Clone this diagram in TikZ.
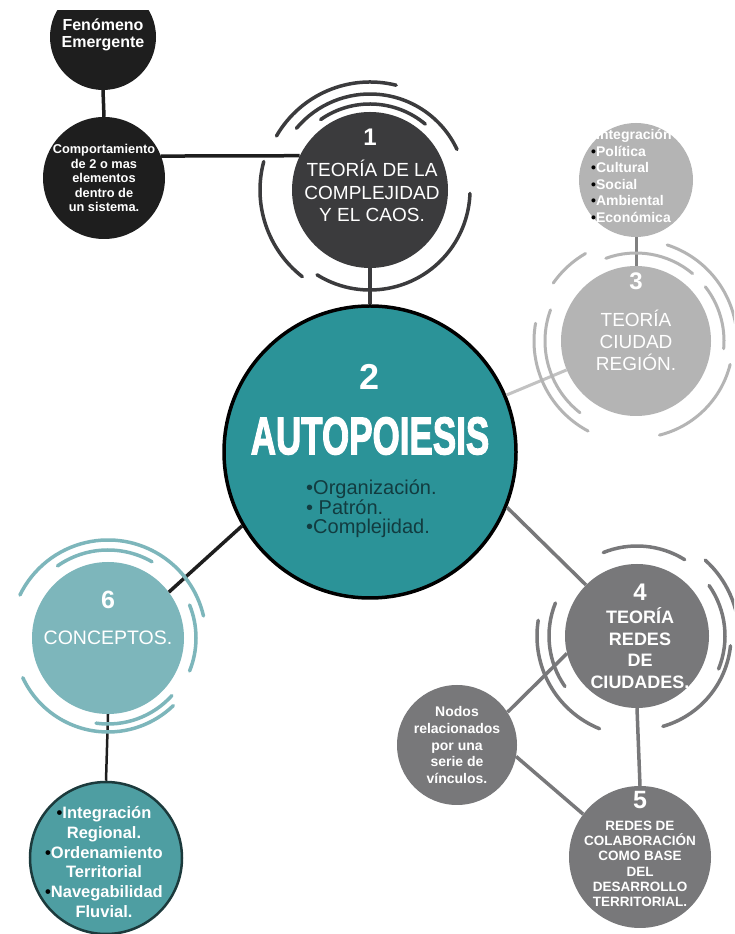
\documentclass[tikz,border=0pt]{standalone}
\usepackage{fontspec}
\setmainfont{Liberation Sans}
\newfontfamily\heavyfont[FakeBold=2.5]{Liberation Sans}
\definecolor{cblack}{HTML}{1E1E1E}
\definecolor{cone}{HTML}{3B3B3D}
\definecolor{cteal}{HTML}{2B9398}
\definecolor{clight}{HTML}{B4B4B4}
\definecolor{clightline}{HTML}{C2C2C2}
\definecolor{cmid}{HTML}{78787A}
\definecolor{csix}{HTML}{7DB6BB}
\definecolor{cbot}{HTML}{4E9EA2}
\definecolor{cbotborder}{HTML}{1C3A3C}
\definecolor{cdarktext}{HTML}{123C40}
\tikzset{
  circ/.style={circle, inner sep=0pt, minimum size=#1},
  wtxt/.style={align=center, text=white, inner sep=0pt},
  link/.style={line width=3.5pt},
  ring/.style={line width=3.5pt, line cap=round},
}
\newcommand\ringarc[5]{\draw[ring,#1] (#2.center) ++(#4:#3) arc[start angle=#4, end angle=#5, radius=#3];}
\newcommand\fs[2]{\fontsize{#1}{#2}\selectfont}
\begin{document}
\begin{tikzpicture}[x=1pt,y=1pt]
\clip (0,0) rectangle (734,934);
\fill[white] (0,0) rectangle (734,934);

% circles (nodes)
\begin{scope}
\clip (0,0) rectangle (734,923);
\node[circ=106pt, fill=cblack] (fen) at (103,897) {};
\end{scope}
\node[circ=122pt, fill=cblack] (comp) at (104,756) {};
\node[circ=156pt, fill=cone] (c1) at (370,744) {};
\node[circ=114pt, fill=clight] (integ) at (636,754) {};
\node[circ=150pt, fill=clight] (c3) at (636,593) {};
\node[circ=144pt, fill=cmid] (c4) at (637,298) {};
\node[circ=120pt, fill=cmid] (nodos) at (457,189) {};
\node[circ=142pt, fill=cmid] (c5) at (640,77) {};
\node[circ=152pt, fill=csix] (c6) at (108,296) {};
\node[circ=152pt, fill=cbot, draw=cbotborder, line width=2.5pt] (bot) at (106,76) {};
\node[circ=292pt, fill=cteal, draw=black, line width=3.5pt] (c2) at (370,482) {};

% connectors
\draw[link, cblack] (fen.south) -- (comp.north);
\draw[link, cblack] (comp.21) -- (c1.154);
\draw[link, cone] (c1.south) -- (c2.north);
\draw[link, clightline, line width=3pt] (c2) -- (c3);
\draw[link, gray, line width=3pt] (integ.south) -- (c3.north);
\draw[link, cmid] (c2.-22) -- (c4.135);
\draw[link, cmid] (nodos.33) -- (c4.194);
\draw[link, cmid] (nodos.-11) -- (c5.143);
\draw[link, cmid] (c4.south) -- (c5.north);
\draw[link, cblack] (c2.210) -- (c6.37);
\draw[link, cblack, line width=2.5pt] (c6.south) -- (bot.north);

% rings around circle 1
\ringarc{cone}{c1}{108}{76}{150}
\ringarc{cone}{c1}{96}{25}{140}
\ringarc{cone}{c1}{86}{50}{125}
\ringarc{cone}{c1}{110}{165}{232}
\ringarc{cone}{c1}{100}{238}{358}

% rings around circle 3
\ringarc{clight, line width=3pt}{c3}{102}{170}{242}
\ringarc{clight, line width=3pt}{c3}{91}{160}{232}
\ringarc{clight, line width=3pt}{c3}{101}{120}{145}
\ringarc{clight, line width=3pt}{c3}{88}{50}{110}
\ringarc{clight, line width=3pt}{c3}{101}{10}{72}
\ringarc{clight, line width=3pt}{c3}{88}{-5}{38}
\ringarc{clight, line width=3pt}{c3}{97}{-76}{-14}

% rings around circle 4
\ringarc{cmid}{c4}{100}{171}{248}
\ringarc{cmid}{c4}{88}{158}{215}
\ringarc{cmid}{c4}{90}{58}{112}
\ringarc{cmid}{c4}{102}{0}{48}
\ringarc{cmid}{c4}{88}{-22}{35}
\ringarc{cmid}{c4}{94}{-74}{-6}

% rings around circle 6
\ringarc{csix}{c6}{98}{13}{154}
\ringarc{csix}{c6}{88}{60}{125}
\ringarc{csix}{c6}{88}{-22}{22}
\ringarc{csix}{c6}{94}{205}{314}
\ringarc{csix}{c6}{86}{262}{318}

% texts
\node[wtxt, font=\bfseries\fs{16}{17}] (fent) at (103,899) {Fenómeno\\Emergente};
\node[wtxt, font=\bfseries\fs{12.8}{14.5}] (compt) at (104,756) {Comportamiento\\de 2 o mas\\elementos\\dentro de\\un sistema.};

\node[wtxt, font=\bfseries\fs{24}{24}] (c1n) at (370,797) {1};
\node[wtxt, font=\fs{19}{22.5}] (c1t) at (372,743) {TEORÍA DE LA\\COMPLEJIDAD\\Y EL CAOS.};

\node[wtxt, font=\bfseries\fs{36}{36}] (c2n) at (370,557) {2};
\node[wtxt, font=\heavyfont\bfseries\fs{53}{53}] (c2t) at (370,498) {\scalebox{0.66}[1]{AUTOPOIESIS}};
\node[align=left, text=cdarktext, inner sep=0pt, anchor=west, font=\fs{20}{19.5}] (c2b) at (306,425) {•Organización.\\• Patrón.\\•Complejidad.};

\node[wtxt, font=\bfseries\fs{24}{24}] (c3n) at (636,653) {3};
\node[wtxt, font=\fs{19}{22}] (c3t) at (636,594) {TEORÍA\\CIUDAD\\REGIÓN.};

\node[align=left, text=white, inner sep=0pt, anchor=west, font=\bfseries\fs{14}{16.5}] (integt) at (591,758)
  {\phantom{•}Integración\\\textcolor{black}{•}Política\\\textcolor{black}{•}Cultural\\\textcolor{black}{•}Social\\\textcolor{black}{•}Ambiental\\\textcolor{black}{•}Económica};

\node[wtxt, font=\bfseries\fs{24}{24}] (c4n) at (640,342) {4};
\node[wtxt, font=\bfseries\fs{18}{21.5}] (c4t) at (640,286) {TEORÍA\\REDES\\DE\\CIUDADES.};

\node[wtxt, font=\bfseries\fs{14}{16.6}] (nodost) at (457,189) {Nodos\\relacionados\\por una\\serie de\\vínculos.};

\node[wtxt, font=\bfseries\fs{25}{25}] (c5n) at (640,134) {5};
\node[wtxt, font=\bfseries\fs{13.5}{15.3}] (c5t) at (640,70) {REDES DE\\COLABORACIÓN\\COMO BASE\\DEL\\DESARROLLO\\TERRITORIAL.};

\node[wtxt, font=\bfseries\fs{25}{25}] (c6n) at (108,334) {6};
\node[wtxt, font=\fs{19.5}{20}] (c6t) at (108,296) {CONCEPTOS.};

\node[wtxt, font=\bfseries\fs{16.5}{19.8}] (bott) at (104,72)
  {\textcolor{black}{•}Integración\\Regional.\\\textcolor{black}{•}Ordenamiento\\Territorial\\\textcolor{black}{•}Navegabilidad\\Fluvial.};
\end{tikzpicture}
\end{document}
